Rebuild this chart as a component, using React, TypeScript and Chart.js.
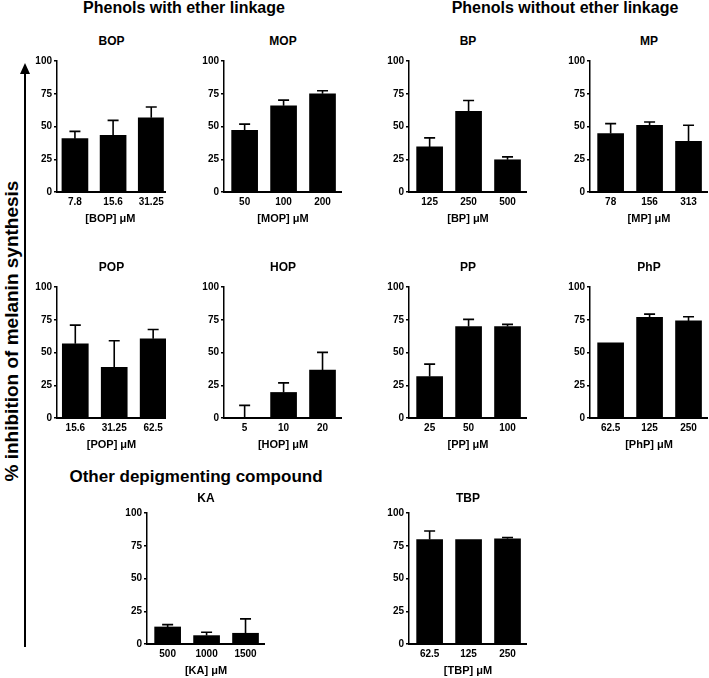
import React, { useEffect, useRef } from 'react';
import { Chart, registerables } from 'chart.js';
Chart.register(...registerables);

const FONT = "'Liberation Sans', Arial, Helvetica, sans-serif";

// ---- data ----
const bopDoses = ['7.8', '15.6', '31.25'];
const bopMeans = [40.7, 43.3, 56.7];
const bopSD = [5.6, 11.4, 8.2];

const mopDoses = ['50', '100', '200'];
const mopMeans = [47.0, 65.8, 75.0];
const mopSD = [4.8, 4.3, 2.3];

const bpDoses = ['125', '250', '500'];
const bpMeans = [34.4, 61.5, 24.6];
const bpSD = [6.9, 8.4, 2.2];

const mpDoses = ['78', '156', '313'];
const mpMeans = [44.6, 50.9, 38.7];
const mpSD = [7.6, 2.5, 12.2];

const popDoses = ['15.6', '31.25', '62.5'];
const popMeans = [56.7, 38.7, 60.5];
const popSD = [14.2, 20.3, 7.1];

const hopDoses = ['5', '10', '20'];
const hopMeans = [0, 19.5, 36.5];
const hopSD = [9.6, 7.3, 13.6];

const ppDoses = ['25', '50', '100'];
const ppMeans = [31.7, 69.8, 69.8];
const ppSD = [9.4, 5.5, 1.7];

const phpDoses = ['62.5', '125', '250'];
const phpMeans = [57.4, 76.8, 74.1];
const phpSD = [0, 2.5, 3.2];

const kaDoses = ['500', '1000', '1500'];
const kaMeans = [13.0, 6.4, 8.2];
const kaSD = [1.8, 2.6, 11.0];

const tbpDoses = ['62.5', '125', '250'];
const tbpMeans = [79.7, 79.7, 80.3];
const tbpSD = [6.6, 0, 1.0];

const yTicks = [0, 25, 50, 75, 100];

const sectionTitles = ['Phenols with ether linkage', 'Phenols without ether linkage', 'Other depigmenting compound'];
const yAxisLabel = '% inhibition of melanin synthesis';

// ---- layout ----
const Y_W = 45;
const X_H = 40;
const PAD_T = 10;
const PAD_R = 2;
const PLOT_H = 131;
const UNIT = 39;
const XR_STD = [-0.53, 2.5];
const XR_NARROW = [-0.47, 2.33];

const panels = [
  { name: 'BOP', doses: bopDoses, means: bopMeans, sd: bopSD, ax: 57, y100: 61, ty: 40.5, xr: XR_NARROW },
  { name: 'MOP', doses: mopDoses, means: mopMeans, sd: mopSD, ax: 224, y100: 61, ty: 40.5, xr: XR_STD },
  { name: 'BP', doses: bpDoses, means: bpMeans, sd: bpSD, ax: 409, y100: 61, ty: 40.5, xr: XR_STD },
  { name: 'MP', doses: mpDoses, means: mpMeans, sd: mpSD, ax: 590, y100: 61, ty: 40.5, xr: XR_STD },
  { name: 'POP', doses: popDoses, means: popMeans, sd: popSD, ax: 57, y100: 287, ty: 266.5, xr: XR_NARROW },
  { name: 'HOP', doses: hopDoses, means: hopMeans, sd: hopSD, ax: 224, y100: 287, ty: 266.5, xr: XR_STD },
  { name: 'PP', doses: ppDoses, means: ppMeans, sd: ppSD, ax: 409, y100: 287, ty: 266.5, xr: XR_STD },
  { name: 'PhP', doses: phpDoses, means: phpMeans, sd: phpSD, ax: 590, y100: 287, ty: 266.5, xr: XR_STD },
  { name: 'KA', doses: kaDoses, means: kaMeans, sd: kaSD, ax: 147, y100: 513, ty: 497.5, xr: XR_STD },
  { name: 'TBP', doses: tbpDoses, means: tbpMeans, sd: tbpSD, ax: 409, y100: 513, ty: 497.5, xr: XR_STD },
];

// error bars (upper SD) and the x-axis baseline, drawn through the chart's scales
const overlayPlugin = {
  id: 'overlay',
  afterDraw(chart: any) {
    const { ctx, chartArea } = chart;
    const yScale = chart.scales.y;
    ctx.save();
    ctx.fillStyle = '#000';
    ctx.strokeStyle = '#000';
    const y0 = Math.round(yScale.getPixelForValue(0));
    ctx.fillRect(Math.floor(chartArea.left) - 1, y0 - 1, Math.ceil(chartArea.right - chartArea.left) + 1, 2);
    chart.data.datasets.forEach((ds: any, di: number) => {
      const meta = chart.getDatasetMeta(di);
      const errs = ds.errors || [];
      meta.data.forEach((el: any, i: number) => {
        const e = errs[i];
        if (!e) return;
        const v = ds.data[i].y;
        const x = el.x;
        const yTop = yScale.getPixelForValue(v + e);
        const yBase = yScale.getPixelForValue(v);
        ctx.lineWidth = 1.6;
        ctx.beginPath();
        ctx.moveTo(x, yBase);
        ctx.lineTo(x, yTop);
        ctx.moveTo(x - 5.5, yTop);
        ctx.lineTo(x + 5.5, yTop);
        ctx.stroke();
      });
    });
    ctx.restore();
  },
};

function Panel({ p }: { p: any }) {
  const ref = useRef<HTMLCanvasElement | null>(null);
  const plotW = Math.round((p.xr[1] - p.xr[0]) * UNIT);
  const w = Y_W + plotW + PAD_R;
  const h = PAD_T + PLOT_H + X_H;
  useEffect(() => {
    const chart = new Chart(ref.current as HTMLCanvasElement, {
      type: 'bar',
      data: {
        datasets: [
          {
            data: p.means.map((m: number, i: number) => ({ x: i, y: m })),
            errors: p.sd,
            backgroundColor: '#000',
            borderWidth: 0,
            barThickness: 26,
          } as any,
        ],
      },
      options: {
        responsive: false,
        animation: false,
        devicePixelRatio: 1,
        layout: { padding: { top: PAD_T, right: PAD_R, left: 0, bottom: 0 } },
        plugins: { legend: { display: false }, tooltip: { enabled: false }, title: { display: false } },
        scales: {
          x: {
            type: 'linear',
            offset: false,
            min: p.xr[0],
            max: p.xr[1],
            grid: { display: true, drawOnChartArea: false, drawTicks: false, color: 'rgba(0,0,0,0)' },
            border: { display: false },
            afterBuildTicks: (s: any) => {
              s.ticks = p.doses.map((_: string, i: number) => ({ value: i }));
            },
            ticks: {
              callback: (v: any) => p.doses[v] ?? '',
              color: '#000',
              font: { family: FONT, size: 10, weight: 'bold' },
              padding: 4,
              maxRotation: 0,
              autoSkip: false,
            },
            title: {
              display: true,
              text: `[${p.name}] μM`,
              color: '#000',
              font: { family: FONT, size: 11, weight: 'bold' },
              padding: { top: 0, bottom: 6 },
            },
            afterFit: (s: any) => {
              s.height = X_H;
            },
          },
          y: {
            min: 0,
            max: 100,
            afterBuildTicks: (s: any) => {
              s.ticks = yTicks.map((v) => ({ value: v }));
            },
            ticks: {
              color: '#000',
              font: { family: FONT, size: 10, weight: 'bold' },
              padding: 2,
            },
            grid: { drawOnChartArea: false, drawTicks: true, tickLength: 3, color: '#000', lineWidth: 1.5 },
            border: { display: true, color: '#000', width: 1.5 },
            afterFit: (s: any) => {
              s.width = Y_W;
            },
          },
        },
      } as any,
      plugins: [overlayPlugin],
    });
    return () => chart.destroy();
  }, []);
  return (
    <>
      <canvas
        ref={ref}
        width={w}
        height={h}
        style={{ position: 'absolute', left: p.ax - Y_W, top: p.y100 - PAD_T, width: w, height: h }}
      />
      <div
        style={{
          position: 'absolute',
          left: p.ax - 1,
          top: p.y100 + PLOT_H - 1,
          width: plotW + 1,
          height: 2,
          background: '#000',
        }}
      />
      <div
        style={{
          position: 'absolute',
          left: p.ax + plotW / 2 - 60,
          width: 120,
          top: p.ty - 6,
          textAlign: 'center',
          font: `bold 12px/12px ${FONT}`,
          color: '#000',
        }}
      >
        {p.name}
      </div>
    </>
  );
}

export default function App() {
  const sectionStyle = (cx: number, top: number, size: number): React.CSSProperties => ({
    position: 'absolute',
    left: cx - 200,
    width: 400,
    top,
    textAlign: 'center',
    font: `bold ${size}px/${size}px ${FONT}`,
    color: '#000',
    whiteSpace: 'nowrap',
  });
  return (
    <div
      style={{
        position: 'fixed',
        left: 0,
        top: 0,
        width: 709,
        height: 678,
        background: '#fff',
        overflow: 'hidden',
      }}
    >
      <div style={sectionStyle(184, 0, 16)}>{sectionTitles[0]}</div>
      <div style={sectionStyle(565, 0, 16)}>{sectionTitles[1]}</div>
      <div style={sectionStyle(196, 468, 17)}>{sectionTitles[2]}</div>
      <svg width={40} height={678} style={{ position: 'absolute', left: 0, top: 0 }}>
        <line x1={25} y1={647} x2={25} y2={72} stroke="#000" strokeWidth={2} />
        <polygon points="20,74 30,74 25,63" fill="#000" />
      </svg>
      <div
        style={{
          position: 'absolute',
          left: 12 - 200,
          top: 331 - 10,
          width: 400,
          height: 20,
          textAlign: 'center',
          font: `bold 19px/20px ${FONT}`,
          color: '#000',
          transform: 'rotate(-90deg)',
          transformOrigin: '200px 10px',
          whiteSpace: 'nowrap',
        }}
      >
        {yAxisLabel}
      </div>
      {panels.map((p) => (
        <Panel key={p.name} p={p} />
      ))}
    </div>
  );
}
